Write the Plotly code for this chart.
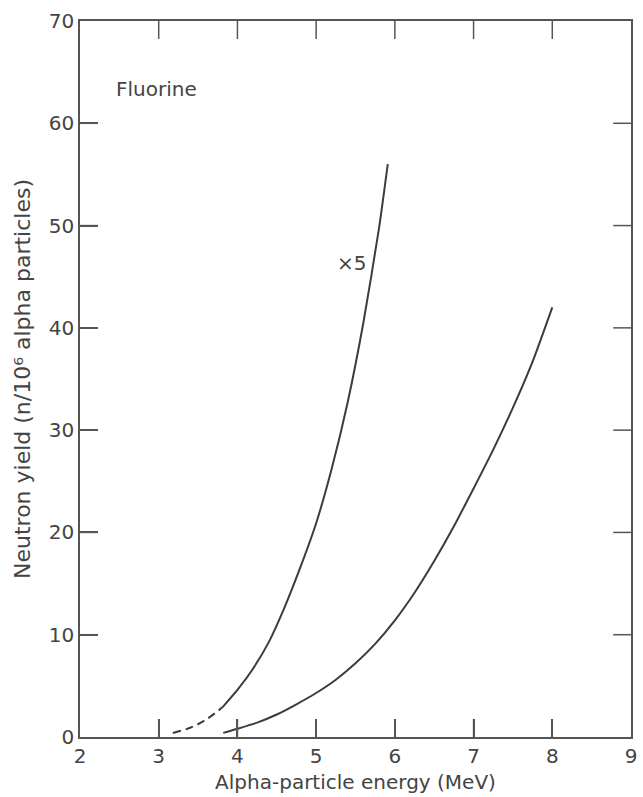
import plotly.graph_objects as go

# Fluorine, x5 curve: dashed (extrapolated) part
x5_dash_x = [3.18, 3.40, 3.60, 3.81]
x5_dash_y = [0.4, 0.9, 1.7, 2.9]
# Fluorine, x5 curve: solid part
x5_x = [3.81, 4.0, 4.2, 4.4, 4.6, 4.8, 5.0, 5.2, 5.4, 5.6, 5.8, 5.91]
x5_y = [2.9, 4.6, 6.7, 9.3, 12.7, 16.6, 20.9, 26.3, 32.7, 40.5, 49.8, 56.0]
# Fluorine, actual curve
f_x = [3.82, 4.0, 4.25, 4.5, 4.75, 5.0, 5.25, 5.5, 5.75, 6.0, 6.25, 6.5, 6.75, 7.0, 7.25, 7.5, 7.75, 8.0]
f_y = [0.4, 0.8, 1.4, 2.2, 3.2, 4.3, 5.6, 7.2, 9.1, 11.4, 14.1, 17.2, 20.6, 24.3, 28.1, 32.2, 36.7, 42.0]

x_ticks = [2, 3, 4, 5, 6, 7, 8, 9]
y_ticks = [0, 10, 20, 30, 40, 50, 60, 70]

LINE = "#3c3c3c"
AX = "#555555"
FONT = "DejaVu Sans"
W, H = 643, 797
MARGIN = dict(l=80, r=6, t=21, b=60)
TICKLEN = 18
X_RANGE = [x_ticks[0], x_ticks[-1]]
Y_RANGE = [y_ticks[0], y_ticks[-1]]
plot_w = W - MARGIN["l"] - MARGIN["r"]
plot_h = H - MARGIN["t"] - MARGIN["b"]

fig = go.Figure()
fig.add_trace(go.Scatter(x=x5_dash_x, y=x5_dash_y, mode="lines",
                         line=dict(color=LINE, width=2, dash="8px,5px", shape="spline"),
                         showlegend=False, hoverinfo="skip"))
fig.add_trace(go.Scatter(x=x5_x, y=x5_y, mode="lines",
                         line=dict(color=LINE, width=2, shape="spline", smoothing=0.6),
                         showlegend=False))
fig.add_trace(go.Scatter(x=f_x, y=f_y, mode="lines",
                         line=dict(color=LINE, width=2, shape="spline", smoothing=0.6),
                         showlegend=False))

# inward tick marks on all four sides, at the tick values (length in axis units from pixels)
dy = (Y_RANGE[1] - Y_RANGE[0]) * TICKLEN / plot_h
dx = (X_RANGE[1] - X_RANGE[0]) * TICKLEN / plot_w
tx, ty = [], []
for xv in x_ticks[1:-1]:
    tx += [xv, xv, None, xv, xv, None]
    ty += [Y_RANGE[0], Y_RANGE[0] + dy, None, Y_RANGE[1] - dy, Y_RANGE[1], None]
for yv in y_ticks[1:-1]:
    tx += [X_RANGE[0], X_RANGE[0] + dx, None, X_RANGE[1] - dx, X_RANGE[1], None]
    ty += [yv, yv, None, yv, yv, None]
fig.add_trace(go.Scatter(x=tx, y=ty, mode="lines", connectgaps=False,
                         line=dict(color=AX, width=1.5), showlegend=False,
                         hoverinfo="skip", cliponaxis=False))

fig.add_annotation(x=2.43, y=63.4, text="Fluorine", showarrow=False,
                   xanchor="left", yanchor="middle",
                   font=dict(family=FONT, size=20, color="#444"))
fig.add_annotation(x=5.66, y=46.3, text="×5", showarrow=False,
                   xanchor="right", yanchor="middle",
                   font=dict(family=FONT, size=20, color="#444"))

axis_common = dict(showgrid=False, zeroline=False, showline=True, linecolor=AX,
                   linewidth=1.5, mirror=True, ticks="inside", ticklen=TICKLEN,
                   tickwidth=1.5, tickcolor=AX,
                   tickfont=dict(family=FONT, size=20, color="#444"))

fig.update_xaxes(range=X_RANGE, tickmode="array", tickvals=x_ticks,
                 ticktext=[str(v) for v in x_ticks],
                 title=dict(text="Alpha-particle energy (MeV)", standoff=8,
                            font=dict(family=FONT, size=20, color="#444")),
                 **axis_common)
fig.update_yaxes(range=Y_RANGE, tickmode="array", tickvals=y_ticks,
                 ticktext=[str(v) for v in y_ticks],
                 title=dict(text="Neutron yield (n/10⁶ alpha particles)", standoff=12,
                            font=dict(family=FONT, size=22, color="#444")),
                 **axis_common)

fig.update_layout(template="simple_white", width=W, height=H, margin=MARGIN,
                  font=dict(family=FONT, color="#444"))

fig.write_html("out.html")
